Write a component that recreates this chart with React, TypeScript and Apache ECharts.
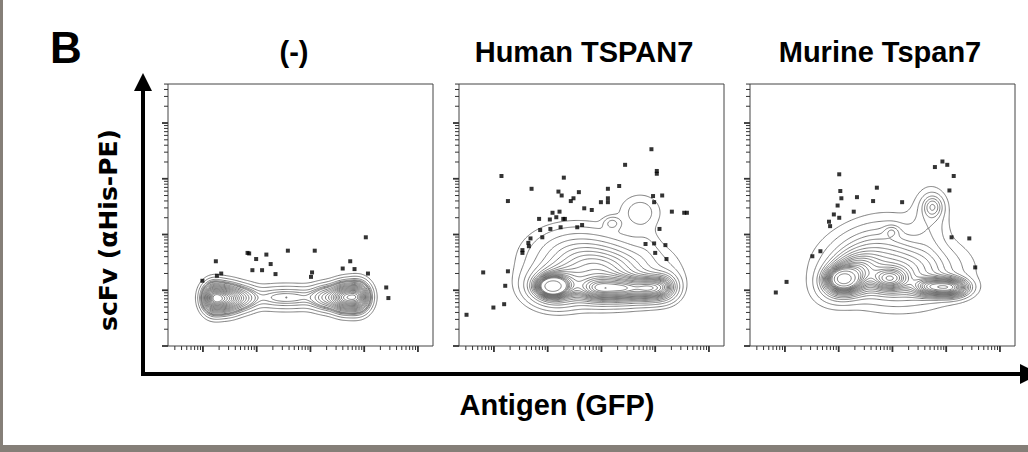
import React, { useEffect, useRef } from "react";
import * as echarts from "echarts";

// ---------- text ----------
const panelLabel = "B";
const panelTitles = ["(-)", "Human TSPAN7", "Murine Tspan7"];
const xAxisTitle = "Antigen (GFP)";
const yAxisTitle = "scFv (\u03b1His-PE)";

// ---------- axes (log10 decades) ----------
const xRange = [0.35, 5.28];
const yRange = [0, 4.7];
const xMajorDecades = [1, 2, 3, 4, 5];
const yMajorDecades = [0, 1, 2, 3, 4];
const minorMultipliers = [2, 3, 4, 5, 6, 7, 8, 9];

// ---------- density components ----------
// [centre x, centre y, spread x, spread y, correlation, peak height] in decades
const negComponents = [
  [1.2, 0.86, 0.13, 0.16, 0, 1.0],
  [1.45, 0.85, 0.16, 0.155, 0, 0.85],
  [1.75, 0.86, 0.17, 0.14, 0, 0.35],
  [2.3, 0.87, 0.3, 0.13, 0, 0.18],
  [2.8, 0.87, 0.3, 0.13, 0, 0.18],
  [3.3, 0.87, 0.18, 0.14, 0, 0.4],
  [3.62, 0.87, 0.15, 0.155, 0, 0.9],
  [3.88, 0.88, 0.14, 0.16, 0, 0.95],
];
const humanComponents = [
  [2.08, 1.07, 0.16, 0.1, 0, 1.0],
  [2.15, 1.07, 0.3, 0.2, 0, 0.5],
  [2.95, 1.02, 0.25, 0.14, 0, 0.5],
  [3.45, 1.02, 0.25, 0.14, 0, 0.5],
  [3.9, 1.03, 0.2, 0.14, 0, 0.5],
  [4.18, 1.06, 0.16, 0.15, 0, 0.3],
  [3.0, 1.35, 0.62, 0.3, 0, 0.38],
  [2.5, 1.7, 0.5, 0.28, 0, 0.13],
  [3.85, 1.85, 0.15, 0.2, 0, 0.02],
  [3.72, 2.4, 0.24, 0.2, 0, 0.07],
  [3.2, 2.2, 0.1, 0.075, 0, 0.1],
];
const murineComponents = [
  [2.08, 1.2, 0.16, 0.11, 0, 1.0],
  [2.2, 1.25, 0.28, 0.22, 0.3, 0.5],
  [2.95, 1.2, 0.2, 0.12, 0, 0.4],
  [3.75, 1.06, 0.22, 0.1, 0, 0.5],
  [4.1, 1.05, 0.19, 0.1, 0, 0.5],
  [3.1, 1.35, 0.6, 0.32, 0, 0.3],
  [2.55, 1.75, 0.5, 0.33, 0.35, 0.1],
  [3.7, 2.25, 0.2, 0.35, 0, 0.06],
  [3.75, 2.5, 0.12, 0.13, 0, 0.14],
  [2.99, 2.06, 0.1, 0.075, 0, 0.07],
];
// enclosed probability of each contour line
const contourMasses = [
  0.05, 0.1, 0.15, 0.2, 0.25, 0.3, 0.35, 0.4, 0.45, 0.5, 0.55, 0.6, 0.65,
  0.7, 0.75, 0.8, 0.85, 0.9, 0.95, 0.98,
];

// ---------- outlier events (decades) ----------
const negOutliers = [
  [0.99, 1.17], [1.24, 1.52], [1.26, 1.26], [1.34, 1.3], [1.83, 1.67],
  [1.86, 1.66], [1.99, 1.56], [1.92, 1.36], [2.1, 1.36], [2.18, 1.64],
  [2.26, 1.47], [2.35, 1.29], [2.58, 1.71], [3.01, 1.24], [3.03, 1.32],
  [3.08, 1.71], [3.6, 1.39], [3.74, 1.52], [3.82, 1.38], [4.03, 1.95],
  [4.07, 1.3], [4.41, 1.05], [4.45, 0.86],
];
const humanOutliers = [
  [0.49, 0.56], [0.8, 1.32], [0.99, 0.69], [1.14, 3.05], [1.19, 0.75],
  [1.21, 1.08], [1.26, 2.6], [1.26, 1.34], [1.53, 1.72], [1.53, 1.67],
  [1.64, 1.85], [1.65, 1.79], [1.68, 1.93], [1.7, 2.82], [1.84, 2.28],
  [1.86, 2.08], [1.9, 1.95], [2.04, 2.27], [2.05, 2.1], [2.09, 2.39],
  [2.16, 2.31], [2.2, 2.77], [2.22, 2.41], [2.24, 2.13], [2.26, 2.7],
  [2.29, 2.28], [2.3, 3.02], [2.32, 2.28], [2.43, 2.6], [2.48, 2.65],
  [2.55, 2.13], [2.58, 2.76], [2.64, 2.17], [2.68, 2.47], [2.82, 2.44],
  [2.99, 2.58], [3.12, 2.82], [3.12, 2.65], [3.12, 2.58], [3.33, 2.87],
  [3.44, 3.25], [3.82, 1.83], [3.93, 3.53], [3.96, 2.69], [3.98, 2.58],
  [3.98, 1.84], [4.0, 1.67], [4.03, 3.14], [4.03, 3.09], [4.08, 2.1],
  [4.13, 2.7], [4.19, 1.81], [4.21, 1.56], [4.31, 2.41], [4.54, 2.39],
  [4.59, 2.39],
];
const murineOutliers = [
  [0.83, 0.96], [1.03, 1.15], [1.51, 1.61], [1.66, 1.7], [1.82, 2.23],
  [1.84, 2.15], [1.91, 2.36], [1.98, 2.52], [2.01, 2.3], [2.01, 3.08],
  [2.03, 2.78], [2.05, 2.65], [2.28, 2.41], [2.34, 2.67], [2.64, 2.6],
  [2.71, 2.84], [3.18, 2.58], [3.79, 3.21], [3.93, 3.31], [4.02, 3.25],
  [4.14, 3.05], [4.06, 2.79], [4.1, 1.95], [4.43, 1.93], [4.54, 1.41],
];

const panelComponents = [negComponents, humanComponents, murineComponents];
const panelOutliers = [negOutliers, humanOutliers, murineOutliers];

// ---------- layout ----------
const gridLefts = [168, 459, 750];
const gridTop = 84;
const gridWidth = 265;
const gridHeight = 262;
const titleCentres = [294, 584, 880];

// ---------- contour computation ----------
function density(comps: number[][], x: number, y: number): number {
  let s = 0;
  for (const c of comps) {
    const dx = (x - c[0]) / c[2];
    const dy = (y - c[1]) / c[3];
    const r = c[4];
    const q = (dx * dx - 2 * r * dx * dy + dy * dy) / (1 - r * r);
    s += c[5] * Math.exp(-0.5 * q);
  }
  return s;
}

const SADDLE5_HIGH = [[0, 1], [2, 3]];
const SADDLE5_LOW = [[3, 0], [1, 2]];
const TABLE: (number[][] | null)[] = [
  [], [[3, 0]], [[0, 1]], [[3, 1]], [[1, 2]], null, [[0, 2]], [[3, 2]],
  [[2, 3]], [[0, 2]], null, [[1, 2]], [[3, 1]], [[0, 1]], [[3, 0]], [],
];

function marching(g: Float64Array, nx: number, ny: number, gx0: number, gy0: number, step: number, L: number): number[][][] {
  const H = nx * ny;
  const pts = new Map<number, number[]>();
  const adj = new Map<number, number[]>();
  const add = (a: number, b: number) => {
    let la = adj.get(a);
    if (!la) { la = []; adj.set(a, la); }
    la.push(b);
    let lb = adj.get(b);
    if (!lb) { lb = []; adj.set(b, lb); }
    lb.push(a);
  };
  for (let j = 0; j < ny - 1; j++) {
    for (let i = 0; i < nx - 1; i++) {
      const v0 = g[j * nx + i], v1 = g[j * nx + i + 1];
      const v2 = g[(j + 1) * nx + i + 1], v3 = g[(j + 1) * nx + i];
      const code = (v0 > L ? 1 : 0) | (v1 > L ? 2 : 0) | (v2 > L ? 4 : 0) | (v3 > L ? 8 : 0);
      if (code === 0 || code === 15) continue;
      let segs = TABLE[code];
      if (!segs) {
        const centre = (v0 + v1 + v2 + v3) / 4 > L;
        if (code === 5) segs = centre ? SADDLE5_HIGH : SADDLE5_LOW;
        else segs = centre ? SADDLE5_LOW : SADDLE5_HIGH;
      }
      const key = (e: number): number => {
        let k: number, x: number, y: number, t: number;
        if (e === 0) { k = j * nx + i; t = (L - v0) / (v1 - v0); x = gx0 + (i + t) * step; y = gy0 + j * step; }
        else if (e === 1) { k = H + j * nx + i + 1; t = (L - v1) / (v2 - v1); x = gx0 + (i + 1) * step; y = gy0 + (j + t) * step; }
        else if (e === 2) { k = (j + 1) * nx + i; t = (L - v3) / (v2 - v3); x = gx0 + (i + t) * step; y = gy0 + (j + 1) * step; }
        else { k = H + j * nx + i; t = (L - v0) / (v3 - v0); x = gx0 + i * step; y = gy0 + (j + t) * step; }
        if (!pts.has(k)) pts.set(k, [x, y]);
        return k;
      };
      for (const s of segs) add(key(s[0]), key(s[1]));
    }
  }
  const visited = new Set<number>();
  const lines: number[][][] = [];
  for (const start of adj.keys()) {
    if (visited.has(start)) continue;
    visited.add(start);
    const line = [pts.get(start)!];
    let cur = start;
    for (;;) {
      const nb = adj.get(cur)!;
      const nxt = nb.find((n) => !visited.has(n));
      if (nxt === undefined) {
        if (nb.includes(start) && line.length > 2) line.push(pts.get(start)!);
        break;
      }
      visited.add(nxt);
      line.push(pts.get(nxt)!);
      cur = nxt;
    }
    if (line.length > 2) lines.push(line);
  }
  return lines;
}

function buildContours(comps: number[][]): number[][][][] {
  const step = 0.02;
  const gx0 = xRange[0] - 0.3, gx1 = xRange[1] + 0.3;
  const gy0 = yRange[0] - 0.4, gy1 = yRange[1] + 0.3;
  const nx = Math.round((gx1 - gx0) / step) + 1;
  const ny = Math.round((gy1 - gy0) / step) + 1;
  const g = new Float64Array(nx * ny);
  let total = 0;
  for (let j = 0; j < ny; j++) {
    for (let i = 0; i < nx; i++) {
      const v = density(comps, gx0 + i * step, gy0 + j * step);
      g[j * nx + i] = v;
      total += v;
    }
  }
  const sorted = Array.from(g).sort((a, b) => b - a);
  const masses = [...contourMasses].sort((a, b) => a - b);
  const levels: number[] = [];
  let cum = 0, p = 0;
  for (const m of masses) {
    while (p < sorted.length && cum < m * total) { cum += sorted[p]; p++; }
    levels.push(sorted[Math.max(0, p - 1)]);
  }
  return levels.map((L) => marching(g, nx, ny, gx0, gy0, step, L));
}

function buildTicks(majors: number[], lo: number, hi: number) {
  const out: number[][] = [];
  for (const d of majors) if (d >= lo - 1e-9 && d <= hi + 1e-9) out.push([d, 1]);
  for (let d = Math.floor(lo) - 1; d <= Math.ceil(hi); d++) {
    for (const m of minorMultipliers) {
      const v = d + Math.log10(m);
      if (v >= lo && v <= hi) out.push([v, 0]);
    }
  }
  return out;
}

const xTicks = buildTicks(xMajorDecades, xRange[0], xRange[1]);
const yTicks = buildTicks(yMajorDecades, yRange[0], yRange[1]);

const FONT = "'Liberation Sans', Arial, Helvetica, sans-serif";

export default function App() {
  const ref = useRef<HTMLDivElement>(null);
  useEffect(() => {
    if (!ref.current) return;
    const chart = echarts.init(ref.current, null, { renderer: "svg", width: 1028, height: 452 });
    const contours = panelComponents.map(buildContours);
    const series: any[] = [];
    panelComponents.forEach((_, pi) => {
      const levelsLines = contours[pi];
      series.push({
        type: "custom",
        xAxisIndex: pi,
        yAxisIndex: pi,
        silent: true,
        clip: true,
        data: levelsLines.map((_, k) => [xRange[0], yRange[0], k]),
        encode: { x: 0, y: 1 },
        renderItem: (params: any, api: any) => {
          const lines = levelsLines[params.dataIndex];
          return {
            type: "group",
            children: lines.map((ln) => ({
              type: "polyline",
              shape: { points: ln.map((pt) => api.coord(pt)) },
              style: { stroke: "#5e5e5e", lineWidth: 0.8, fill: "none" },
            })),
          };
        },
      });
      series.push({
        type: "custom",
        xAxisIndex: pi,
        yAxisIndex: pi,
        silent: true,
        clip: false,
        data: xTicks.map((t) => [t[0], yRange[0], t[1]]),
        encode: { x: 0, y: 1 },
        renderItem: (params: any, api: any) => {
          const pt = api.coord([api.value(0), yRange[0]]);
          const major = api.value(2) === 1;
          return {
            type: "line",
            shape: { x1: pt[0], y1: pt[1], x2: pt[0], y2: pt[1] + (major ? 6 : 4) },
            style: { stroke: "#333", lineWidth: major ? 1.8 : 1 },
          };
        },
      });
      series.push({
        type: "custom",
        xAxisIndex: pi,
        yAxisIndex: pi,
        silent: true,
        clip: false,
        data: yTicks.map((t) => [xRange[0], t[0], t[1]]),
        encode: { x: 0, y: 1 },
        renderItem: (params: any, api: any) => {
          const pt = api.coord([xRange[0], api.value(1)]);
          const major = api.value(2) === 1;
          return {
            type: "line",
            shape: { x1: pt[0], y1: pt[1], x2: pt[0] - (major ? 6 : 4), y2: pt[1] },
            style: { stroke: "#333", lineWidth: major ? 1.8 : 1 },
          };
        },
      });
      series.push({
        type: "scatter",
        xAxisIndex: pi,
        yAxisIndex: pi,
        silent: true,
        symbol: "rect",
        symbolSize: 4,
        itemStyle: { color: "#000" },
        data: panelOutliers[pi],
      });
    });

    const graphic: any[] = [
      { type: "rect", shape: { x: 0, y: 0, width: 3, height: 452 }, style: { fill: "#857f78" } },
      { type: "rect", shape: { x: 0, y: 445, width: 1028, height: 7 }, style: { fill: "#857f78" } },
      { type: "line", shape: { x1: 143, y1: 86, x2: 143, y2: 376 }, style: { stroke: "#000", lineWidth: 4 } },
      { type: "line", shape: { x1: 141, y1: 374, x2: 1024, y2: 374 }, style: { stroke: "#000", lineWidth: 4 } },
      { type: "polygon", shape: { points: [[143, 73], [134, 91], [152, 91]] }, style: { fill: "#000" } },
      { type: "polygon", shape: { points: [[1040, 374], [1020, 364], [1020, 384]] }, style: { fill: "#000" } },
      {
        type: "text", x: 66, y: 47,
        style: { text: panelLabel, fontSize: 44, fontWeight: "bold", fontFamily: FONT, fill: "#000", align: "center", verticalAlign: "middle" },
      },
      {
        type: "text", x: 557, y: 405,
        style: { text: xAxisTitle, fontSize: 29, fontWeight: "bold", fontFamily: FONT, fill: "#000", align: "center", verticalAlign: "middle" },
      },
      {
        type: "text", x: 108, y: 230, rotation: Math.PI / 2,
        style: { text: yAxisTitle, fontSize: 25, fontWeight: "bold", fontFamily: "'DejaVu Sans', Verdana, sans-serif", fill: "#000", align: "center", verticalAlign: "middle" },
      },
      ...panelTitles.map((t, i) => ({
        type: "text", x: titleCentres[i], y: 52,
        style: { text: t, fontSize: 29, fontWeight: "bold", fontFamily: FONT, fill: "#000", align: "center", verticalAlign: "middle" },
      })),
    ];

    chart.setOption({
      animation: false,
      backgroundColor: "#ffffff",
      grid: gridLefts.map((l) => ({
        left: l, top: gridTop, width: gridWidth, height: gridHeight,
        show: true, borderColor: "#444", borderWidth: 1, backgroundColor: "transparent",
      })),
      xAxis: gridLefts.map((_, i) => ({
        gridIndex: i, type: "value", min: xRange[0], max: xRange[1],
        axisLine: { show: false }, axisTick: { show: false }, axisLabel: { show: false }, splitLine: { show: false },
      })),
      yAxis: gridLefts.map((_, i) => ({
        gridIndex: i, type: "value", min: yRange[0], max: yRange[1],
        axisLine: { show: false }, axisTick: { show: false }, axisLabel: { show: false }, splitLine: { show: false },
      })),
      series,
      graphic,
    });
    return () => chart.dispose();
  }, []);
  return (
    <div
      ref={ref}
      style={{ position: "fixed", left: 0, top: 0, width: 1028, height: 452, background: "#fff" }}
    />
  );
}
